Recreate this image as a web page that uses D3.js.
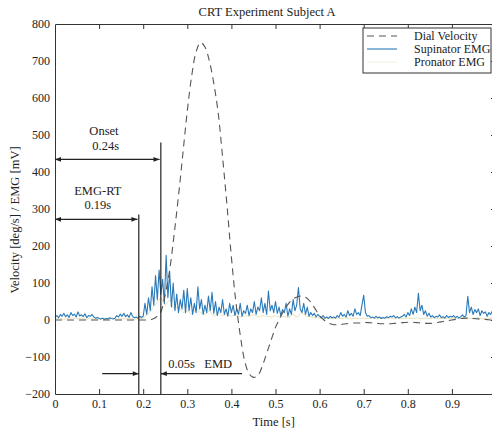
<!DOCTYPE html>
<html>
<head>
<meta charset="utf-8">
<script src="https://cdn.jsdelivr.net/npm/d3@7"></script>
<style>
  body { margin: 0; background: #fff; }
  svg text { font-family: "Liberation Serif", "Times New Roman", Times, serif; }
</style>
</head>
<body>
<div id="chart"></div>
<script>
// dial velocity, sampled every 0.01 s from 0 to 1.0
const velocity = [
  0,0,0,0,0,0,0,0,0,0, 0,0,0,0,0,0,0,0,0,0, 0,0,
  2,8,22,70,135,230,335,450,565,660,725,750,738,700,640,560,440,310,170,50,
  -40,-110,-145,-155,-150,-125,-90,-55,-20,5,28,45,57,63,65,60,48,30,12,0,
  -8,-12,-13,-12,-10,
  -9,-8,-8,-7,-7,-8,-9,-10,-10,-10,-9,-8,-7,-6,-6,-7,-8,-9,-9,-8,-6,-4,-2,
  0,2,4,5,5,4,3,2,1,0,0
];
// supinator EMG, sampled every 0.004 s
const supinator = [
  8,12,6,15,10,18,9,14,7,20,12,16,8,22,11,14,9,17,6,12,10,15,8,5,7,
  4,3,5,2,4,3,6,4,3,5,12,8,16,10,18,9,14,7,20,10,6,8,5,10,7,
  10,45,15,60,25,90,40,120,55,135,70,110,45,175,60,130,35,100,25,70,20,55,30,80,20,
  85,25,60,15,45,20,90,30,55,15,40,20,65,25,75,18,50,12,35,20,55,15,30,10,45,
  20,40,12,30,15,45,10,25,18,40,12,30,20,50,15,35,25,60,20,45,15,78,25,40,20,
  50,18,35,12,28,20,45,10,30,15,55,25,40,88,30,20,45,15,35,10,20,12,18,8,15,
  10,6,12,5,8,4,10,6,8,5,12,7,20,10,15,8,25,12,18,10,30,15,20,12,40,
  67,20,10,12,6,8,5,10,6,8,4,7,5,9,6,10,8,12,6,9,5,8,10,15,8,
  20,12,30,15,35,20,72,25,40,15,25,10,18,8,12,6,10,8,14,6,9,5,12,7,10,
  8,12,6,10,5,9,14,8,12,64,20,35,15,28,20,30,12,25,18,22,10,20,15,25,18,
  20
];
// pronator EMG, sampled every 0.01 s
const pronator = [
  3,5,2,4,6,3,5,2,4,3,2,4,3,5,2,4,3,5,2,4,
  5,15,30,45,60,40,55,30,35,20,
  25,15,30,20,15,25,10,20,12,15,
  10,15,8,12,10,15,8,12,10,8,
  12,8,10,6,15,8,20,10,8,6,
  5,4,6,3,5,4,6,3,5,4, 5,4,6,3,5,4,6,3,5,4, 5,4,6,3,5,4,6,3,5,4, 5,4,6,3,5,4,6,3,5,4, 5
];
const xTicks = [0,0.1,0.2,0.3,0.4,0.5,0.6,0.7,0.8,0.9];
const yTicks = [-200,-100,0,100,200,300,400,500,600,700,800];
const legendLabels = ["Dial Velocity","Supinator EMG","Pronator EMG"];

const W = 492, H = 435;
const FONT = "Liberation Serif, Times New Roman, serif";
const margin = {top: 24, right: -4, bottom: 41, left: 55};
const width = W - margin.left - margin.right;
const height = H - margin.top - margin.bottom;

const svg = d3.select("#chart").append("svg").attr("width", W).attr("height", H)
  .attr("font-family", FONT);
const g = svg.append("g").attr("transform", "translate(" + margin.left + "," + margin.top + ")");

const x = d3.scaleLinear().domain([0, 1]).range([0, width]);
const y = d3.scaleLinear().domain([-200, 800]).range([height, 0]);

const velData = velocity.map((v, i) => ({t: i * 0.01, v: v}));
const supData = supinator.map((v, i) => ({t: i * 0.004, v: v}));
const proData = pronator.map((v, i) => ({t: i * 0.01, v: v}));

const line = d3.line().x(d => x(d.t)).y(d => y(d.v));

// EMG traces
g.append("path").datum(proData).attr("fill", "none").attr("stroke", "#e9e2b8")
  .attr("stroke-width", 1).attr("d", line);
g.append("path").datum(supData).attr("fill", "none").attr("stroke", "#2a7ab9")
  .attr("stroke-width", 1.1).attr("stroke-linejoin", "round").attr("d", line);

// velocity
g.append("path").datum(velData).attr("fill", "none").attr("stroke", "#555")
  .attr("stroke-width", 1.1).attr("stroke-dasharray", "7,5")
  .attr("d", d3.line().curve(d3.curveCatmullRom).x(d => x(d.t)).y(d => y(d.v)));

// axes (ticks inward)
const styleAxis = sel => {
  sel.attr("font-family", FONT).attr("font-size", 12);
  sel.select(".domain").attr("stroke", "#333");
  sel.selectAll(".tick line").attr("stroke", "#333");
  sel.selectAll("text").attr("fill", "#222");
};
g.append("g").attr("transform", "translate(0," + height + ")")
  .call(d3.axisBottom(x).tickValues(xTicks).tickSizeInner(-5).tickSizeOuter(0).tickPadding(5)
    .tickFormat(d => d === 0 ? "0" : d3.format(".1f")(d)))
  .call(styleAxis);
g.append("g")
  .call(d3.axisTop(x).tickValues(xTicks.slice(1)).tickSizeInner(-5).tickSizeOuter(0).tickFormat(""))
  .call(styleAxis);
g.append("g")
  .call(d3.axisLeft(y).tickValues(yTicks).tickSizeInner(0).tickSizeOuter(0).tickPadding(5))
  .call(styleAxis);
g.append("g").attr("transform", "translate(" + width + ",0)")
  .call(d3.axisRight(y).tickValues(yTicks).tickSizeInner(-5).tickSizeOuter(0).tickFormat(""))
  .call(styleAxis);

// annotations
const ann = g.append("g").attr("stroke", "#222").attr("stroke-width", 1.2);
const defs = svg.append("defs");
defs.append("marker").attr("id", "ah").attr("viewBox", "0 0 10 10").attr("refX", 10).attr("refY", 5)
  .attr("markerWidth", 12).attr("markerHeight", 6).attr("orient", "auto-start-reverse")
  .attr("markerUnits", "userSpaceOnUse")
  .append("path").attr("d", "M0,1 L10,5 L0,9 Z").attr("fill", "#222");

const vline = (t, top) => ann.append("line").attr("x1", x(t)).attr("x2", x(t))
  .attr("y1", y(top)).attr("y2", height);
vline(0.24, 480);
vline(0.19, 285);

const arrow = (t0, t1, v, both) => ann.append("line")
  .attr("x1", x(t0)).attr("x2", x(t1)).attr("y1", y(v)).attr("y2", y(v))
  .attr("marker-end", "url(#ah)").attr("marker-start", both ? "url(#ah)" : null);
arrow(0, 0.237, 434, true);
arrow(0, 0.187, 272, true);
arrow(0.107, 0.19, -145, false);
arrow(0.424, 0.24, -145, false);

const label = (txt, t, v) => g.append("text").attr("x", x(t)).attr("y", y(v))
  .attr("text-anchor", "middle").attr("dy", "0.32em")
  .attr("font-size", 12.5).attr("fill", "#222").text(txt);
label("Onset", 0.111, 510);
label("0.24s", 0.115, 470);
label("EMG-RT", 0.097, 350);
label("0.19s", 0.097, 310);
label("0.05s", 0.287, -120);
label("EMD", 0.37, -120);

// title and axis labels
svg.append("text").attr("x", 267).attr("y", 16).attr("text-anchor", "middle")
  .attr("font-size", 12.5).attr("fill", "#222").text("CRT Experiment Subject A");
svg.append("text").attr("x", margin.left + x(0.496)).attr("y", 426).attr("text-anchor", "middle")
  .attr("font-size", 12.5).attr("fill", "#222").text("Time [s]");
svg.append("text").attr("transform", "translate(19,220) rotate(-90)")
  .attr("text-anchor", "middle").attr("font-size", 12.5).attr("fill", "#222")
  .text("Velocity [deg/s] / EMG [mV]");

// legend
const lg = svg.append("g").attr("transform", "translate(363,28)");
lg.append("rect").attr("width", 128).attr("height", 45).attr("fill", "#fff")
  .attr("stroke", "#333").attr("stroke-width", 1);
const legendStyles = [
  {stroke: "#555", dash: "7,5"},
  {stroke: "#2a7ab9", dash: null},
  {stroke: "#f4f0dc", dash: null}
];
legendLabels.forEach((name, i) => {
  const yy = 8 + i * 13;
  lg.append("line").attr("x1", 4).attr("x2", 34).attr("y1", yy).attr("y2", yy)
    .attr("stroke", legendStyles[i].stroke).attr("stroke-width", 1.1)
    .attr("stroke-dasharray", legendStyles[i].dash);
  lg.append("text").attr("x", 51).attr("y", yy).attr("dy", "0.32em")
    .attr("font-size", 12).attr("fill", "#222").text(name);
});
</script>
</body>
</html>
